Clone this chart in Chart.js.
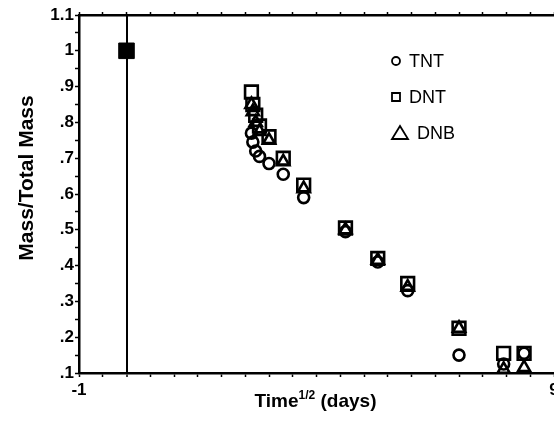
<!DOCTYPE html>
<html>
<head>
<meta charset="utf-8">
<script src="https://cdn.jsdelivr.net/npm/chart.js@4"></script>
<style>
  html, body { margin: 0; padding: 0; background: #fff; }
  #wrap { width: 554px; height: 422px; overflow: hidden; position: relative; }
  #plot { display: block; }
</style>
</head>
<body>
<div id="wrap"><canvas id="plot" width="566" height="422"></canvas></div>
<script>
// square root of sampling time (days^1/2)
const sqrtDays = [2.63, 2.66, 2.72, 2.80, 3.00, 3.30, 3.73, 4.61, 5.29, 5.92, 7.00, 7.94, 8.37];

// remaining mass fraction per compound
const tntMass = [0.77, 0.745, 0.72, 0.705, 0.685, 0.655, 0.59, 0.495, 0.41, 0.33, 0.15, 0.125, 0.155];
const dntMass = [0.885, 0.85, 0.82, 0.79, 0.76, 0.70, 0.625, 0.505, 0.42, 0.35, 0.225, 0.155, 0.155];
const dnbMass = [0.85, 0.83, 0.80, 0.775, 0.75, 0.69, 0.615, 0.50, 0.415, 0.34, 0.225, 0.11, 0.115];

// starting point, all compounds together
const startDays = [0];
const startMass = [1.0];

const xEndLabels = [-1, 9];

function pairs(xs, ys) {
    return xs.map((x, i) => ({ x: x, y: ys[i] }));
}

function yLabel(v) {
    const r = Math.round(v * 100) / 100;
    if (Math.abs(r * 10 - Math.round(r * 10)) > 1e-6) return '';
    if (r >= 1) return r === 1 ? '1' : r.toFixed(1);
    return r.toFixed(1).replace(/^0/, '');
}

const FAMILY = 'Liberation Sans, Arial, sans-serif';
const tickFont = { family: FAMILY, size: 17, weight: 'bold' };

// legend inside the plot, axis titles (x title has a superscript)
const extras = {
    id: 'extras',
    afterDraw(chart) {
        const ctx = chart.ctx;
        const a = chart.chartArea;
        ctx.save();

        // faint right frame
        ctx.strokeStyle = '#c8c8c8';
        ctx.lineWidth = 1;
        ctx.beginPath();
        ctx.moveTo(a.right + 0.5, a.top);
        ctx.lineTo(a.right + 0.5, a.bottom);
        ctx.stroke();

        // legend
        const lx = a.left + 317;
        const rows = [
            { y: a.top + 46, text: 'TNT', style: 'circle', tx: 13 },
            { y: a.top + 82, text: 'DNT', style: 'rect', tx: 13 },
            { y: a.top + 118, text: 'DNB', style: 'triangle', tx: 21 }
        ];
        ctx.strokeStyle = '#000';
        ctx.fillStyle = '#000';
        ctx.lineWidth = 1.8;
        ctx.font = '18px ' + FAMILY;
        ctx.textBaseline = 'middle';
        rows.forEach(r => {
            ctx.beginPath();
            if (r.style === 'circle') {
                ctx.arc(lx, r.y, 4, 0, Math.PI * 2);
            } else if (r.style === 'rect') {
                ctx.rect(lx - 4, r.y - 4, 8, 8);
            } else {
                ctx.moveTo(lx + 4, r.y - 7);
                ctx.lineTo(lx + 12, r.y + 6);
                ctx.lineTo(lx - 4, r.y + 6);
                ctx.closePath();
            }
            ctx.stroke();
            ctx.fillText(r.text, lx + r.tx, r.y + 1);
        });

        // y axis title
        ctx.save();
        ctx.translate(a.left - 52, a.top + 163);
        ctx.rotate(-Math.PI / 2);
        ctx.textAlign = 'center';
        ctx.textBaseline = 'middle';
        ctx.font = 'bold 21px ' + FAMILY;
        ctx.fillText('Mass/Total Mass', 0, 0);
        ctx.restore();

        // x axis title: Time^1/2 (days)
        const cx = (a.left + a.right) / 2 - 1;
        const ty = a.bottom + 34;
        const big = 'bold 19px ' + FAMILY;
        const small = 'bold 12px ' + FAMILY;
        ctx.font = big;
        const w1 = ctx.measureText('Time').width;
        const w3 = ctx.measureText(' (days)').width;
        ctx.font = small;
        const w2 = ctx.measureText('1/2').width;
        let x = cx - (w1 + w2 + w3) / 2;
        ctx.textBaseline = 'alphabetic';
        ctx.textAlign = 'left';
        ctx.font = big;
        ctx.fillText('Time', x, ty);
        x += w1;
        ctx.font = small;
        ctx.fillText('1/2', x, ty - 8);
        x += w2;
        ctx.font = big;
        ctx.fillText(' (days)', x, ty);
        ctx.restore();
    }
};

const openMark = {
    borderColor: '#000',
    backgroundColor: 'rgba(0,0,0,0)',
    borderWidth: 2.6,
    showLine: false
};

new Chart(document.getElementById('plot'), {
    type: 'scatter',
    data: {
        datasets: [
            { label: 'Start', data: pairs(startDays, startMass), pointStyle: 'rect', pointRadius: 11,
              backgroundColor: '#000', borderColor: '#000', borderWidth: 1, showLine: false },
            Object.assign({ label: 'DNT', data: pairs(sqrtDays, dntMass), pointStyle: 'rect', pointRadius: 9 }, openMark),
            Object.assign({ label: 'DNB', data: pairs(sqrtDays, dnbMass), pointStyle: 'triangle', pointRadius: 7 }, openMark),
            Object.assign({ label: 'TNT', data: pairs(sqrtDays, tntMass), pointStyle: 'circle', pointRadius: 5.5 }, openMark)
        ]
    },
    options: {
        responsive: false,
        animation: false,
        layout: { padding: 0 },
        plugins: {
            legend: { display: false },
            tooltip: { enabled: false }
        },
        scales: {
            x: {
                type: 'linear',
                position: 'bottom',
                min: -1,
                max: 9,
                afterFit(scale) { scale.height = 49; },
                ticks: {
                    stepSize: 0.5,
                    autoSkip: false,
                    maxRotation: 0,
                    color: '#000',
                    font: tickFont,
                    padding: 3,
                    callback: v => xEndLabels.includes(v) ? String(v) : ''
                },
                grid: {
                    drawOnChartArea: true,
                    color: c => (c.tick && c.tick.value === 0) ? '#000' : 'rgba(0,0,0,0)',
                    lineWidth: c => (c.tick && c.tick.value === 0) ? 2 : 1,
                    tickColor: '#000',
                    tickLength: 4,
                    tickWidth: 1.5
                },
                border: { color: '#000', width: 2.5 }
            },
            xTop: {
                type: 'linear',
                position: 'top',
                min: -1,
                max: 9,
                afterFit(scale) { scale.height = 15; },
                ticks: { stepSize: 0.5, display: false },
                grid: { drawOnChartArea: false, tickColor: '#000', tickLength: 3, tickWidth: 1.5 },
                border: { color: '#000', width: 2.5 }
            },
            y: {
                min: 0.1,
                max: 1.1,
                afterFit(scale) { scale.width = 79; },
                ticks: {
                    stepSize: 0.05,
                    autoSkip: false,
                    color: '#000',
                    font: tickFont,
                    padding: 1,
                    callback: v => yLabel(v)
                },
                grid: {
                    drawOnChartArea: false,
                    tickColor: '#000',
                    tickLength: 4,
                    tickWidth: 1.5
                },
                border: { color: '#000', width: 2.5 }
            }
        }
    },
    plugins: [extras]
});
</script>
</body>
</html>
